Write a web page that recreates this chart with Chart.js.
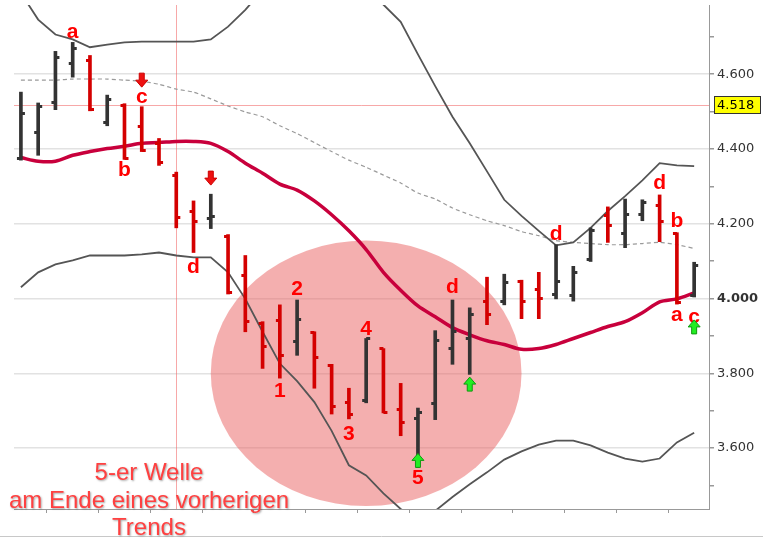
<!DOCTYPE html>
<html>
<head>
<meta charset="utf-8">
<script src="https://cdn.jsdelivr.net/npm/chart.js@4.4.1/dist/chart.umd.min.js"></script>
<style>
  html, body { margin: 0; padding: 0; background: #fff; }
  canvas { display: block; }
</style>
</head>
<body>
<canvas id="chart" width="763" height="555"></canvas>
<script>
// OHLC per bar (index points)
const opens  = [4375,4444,4523,4629,4637,4470,4515,4460,4415,4330,4232,4213,4166,4062,3932,3940,3885,3909,3821,3723,3726,3866,3702,3678,3718,3866,3893,3991,3991,4046,4025,4012,4009,4105,4221,4173,4226,4250,4173,4007];
const highs  = [4552,4523,4661,4685,4650,4544,4521,4513,4428,4338,4261,4279,4171,4115,3938,3983,3996,3911,3824,3760,3893,3866,3773,3707,3914,3996,3975,4057,4065,4049,4070,4144,4086,4189,4245,4266,4264,4277,4176,4097];
const lows   = [4370,4383,4505,4592,4502,4462,4372,4393,4356,4189,4123,4187,4012,3911,3813,3787,3848,3760,3691,3678,3721,3694,3633,3548,3676,3824,3797,3930,3983,3946,3946,3999,3993,4099,4150,4136,4208,4152,3985,4004];
const closes = [4494,4513,4645,4669,4505,4531,4375,4396,4364,4216,4205,4219,4015,3938,3871,3848,3943,3842,3710,3691,3893,3694,3668,3694,3887,3911,3956,3956,4044,3991,3999,4046,4070,4181,4195,4224,4258,4205,3988,4089];

// Bollinger bands, moving average, slow average (dashed)
const upperBand = [4817,4746,4706,4693,4672,4679,4685,4687,4687,4687,4687,4693,4727,4772,4825,4891,4944,4976,4984,4966,4905,4786,4740,4653,4568,4486,4415,4340,4264,4221,4181,4142,4150,4189,4234,4274,4316,4362,4356,4354];
const lowerBand = [4030,4070,4091,4102,4115,4115,4115,4118,4123,4115,4110,4110,4070,3999,3911,3826,3779,3723,3646,3554,3527,3479,3437,3408,3432,3469,3503,3535,3569,3591,3609,3620,3620,3607,3588,3572,3564,3572,3615,3641];
const movAvg    = [4377,4367,4367,4383,4393,4401,4407,4415,4417,4420,4420,4415,4393,4362,4335,4306,4290,4261,4224,4181,4131,4070,4022,3980,3951,3922,3903,3887,3877,3864,3866,3877,3893,3909,3925,3938,3962,3991,3999,4015];
const slowAvg   = [4584,4584,4584,4587,4587,4587,4584,4581,4573,4560,4552,4534,4515,4499,4486,4462,4441,4417,4393,4370,4351,4330,4309,4282,4266,4242,4224,4208,4195,4179,4168,4155,4150,4147,4144,4144,4147,4150,4144,4134];

// wave labels
const noteIdx  = [3, 6, 7, 10, 15, 16, 19, 20, 23, 25, 31, 37, 38, 38, 39];
const noteVal  = [4711, 4343, 4539, 4084, 3752, 4025, 3636, 3919, 3519, 4030, 4171, 4309, 4208, 3954, 3951];
const noteText = ['a', 'b', 'c', 'd', '1', '2', '3', '4', '5', 'd', 'd', 'd', 'b', 'a', 'c'];

// signal arrows
const downIdx = [7, 11];
const downVal = [4584, 4322];
const upIdx = [23, 26, 39];
const upVal = [3567, 3771, 3924];

const waveCenter = [20, 3800];
const waveRadius = [9, 355];
const cursorIdx = 9;
const lastPrice = 4518;
const yMin = 3437, yMax = 4785;

const RED = '#d40000';
const BLACK = '#333333';

function fmt(v) {
    const k = Math.floor(v / 1000);
    return k + '.' + String(Math.round(v - k * 1000)).padStart(3, '0');
}

function tickImage(color, side) {
    const c = document.createElement('canvas');
    c.width = 10; c.height = 3;
    const g = c.getContext('2d');
    g.fillStyle = color;
    g.fillRect(side === 'left' ? 1 : 5, 0, 4, 3);
    return c;
}
const ticksImg = {
    red:   { left: tickImage(RED, 'left'),   right: tickImage(RED, 'right') },
    black: { left: tickImage(BLACK, 'left'), right: tickImage(BLACK, 'right') }
};

const isUp = closes.map((c, i) => c >= opens[i]);
const barColors = isUp.map(u => u ? BLACK : RED);
const xy = arr => arr.map((v, i) => ({ x: i, y: v }));

function arrow(ctx, px, py, dir, fill, stroke) {
    // dir = 1 points down, -1 points up
    const pts = [[0, 7], [6, 0], [2.5, 0], [2.5, -7], [-2.5, -7], [-2.5, 0], [-6, 0]];
    ctx.beginPath();
    pts.forEach(([dx, dy], k) => {
        const X = px + dx, Y = py + dy * dir;
        if (k === 0) ctx.moveTo(X, Y); else ctx.lineTo(X, Y);
    });
    ctx.closePath();
    ctx.fillStyle = fill;
    ctx.fill();
    if (stroke) { ctx.strokeStyle = stroke; ctx.lineWidth = 1; ctx.stroke(); }
}

const overlay = {
    id: 'overlay',
    beforeDatasetsDraw(chart) {
        const { ctx, chartArea: a, scales: { x, y } } = chart;
        ctx.save();
        ctx.beginPath();
        ctx.rect(a.left, a.top, a.right - a.left, a.bottom - a.top);
        ctx.clip();

        // wave ellipse
        const cx = x.getPixelForValue(waveCenter[0]);
        const cy = y.getPixelForValue(waveCenter[1]);
        const rx = x.getPixelForValue(waveCenter[0] + waveRadius[0]) - cx;
        const ry = cy - y.getPixelForValue(waveCenter[1] + waveRadius[1]);
        ctx.fillStyle = 'rgba(234, 96, 96, 0.5)';
        ctx.beginPath();
        ctx.ellipse(cx, cy, rx, ry, 0, 0, Math.PI * 2);
        ctx.fill();

        // cursor lines
        const px = Math.round(x.getPixelForValue(cursorIdx)) + 0.5;
        const py = Math.round(y.getPixelForValue(lastPrice)) + 0.5;
        ctx.strokeStyle = 'rgba(242, 110, 110, 0.6)';
        ctx.lineWidth = 1;
        ctx.beginPath();
        ctx.moveTo(px, a.top); ctx.lineTo(px, a.bottom);
        ctx.moveTo(a.left, py); ctx.lineTo(a.right, py);
        ctx.stroke();
        ctx.restore();
    },
    afterDatasetsDraw(chart) {
        const { ctx, scales: { x, y } } = chart;
        ctx.save();
        ctx.font = 'bold 21px "Liberation Sans", Arial, sans-serif';
        ctx.textAlign = 'center';
        ctx.textBaseline = 'middle';
        ctx.fillStyle = '#ff0000';
        noteText.forEach((t, k) => {
            ctx.fillText(t, x.getPixelForValue(noteIdx[k]), y.getPixelForValue(noteVal[k]));
        });
        downIdx.forEach((i, k) => {
            arrow(ctx, x.getPixelForValue(i), y.getPixelForValue(downVal[k]), 1, '#ee1111', '#cc0000');
        });
        upIdx.forEach((i, k) => {
            arrow(ctx, x.getPixelForValue(i), y.getPixelForValue(upVal[k]), -1, '#22ee22', '#119911');
        });
        ctx.restore();
    },
    afterDraw(chart) {
        const { ctx, scales: { y } } = chart;
        ctx.save();
        // last price box
        const py = Math.round(y.getPixelForValue(lastPrice));
        ctx.fillStyle = '#ffff00';
        ctx.fillRect(714.5, py - 8.5, 46, 17);
        ctx.strokeStyle = '#333';
        ctx.lineWidth = 1;
        ctx.strokeRect(714.5, py - 8.5, 46, 17);
        ctx.fillStyle = '#000';
        ctx.font = '13px "DejaVu Sans", sans-serif';
        ctx.textBaseline = 'middle';
        ctx.fillText(fmt(lastPrice), 717, py + 0.5);

        // bottom frame line
        ctx.strokeStyle = '#c8c8c8';
        ctx.beginPath();
        ctx.moveTo(0, 536.5); ctx.lineTo(chart.width, 536.5);
        ctx.stroke();

        // note text
        ctx.font = '24px "Liberation Sans", Arial, sans-serif';
        ctx.textAlign = 'center';
        ctx.fillStyle = '#ff4040';
        ctx.shadowColor = 'rgba(0,0,0,0.35)';
        ctx.shadowOffsetX = 1;
        ctx.shadowOffsetY = 1;
        ctx.shadowBlur = 2;
        ctx.fillText('5-er Welle', 149, 473);
        ctx.fillText('am Ende eines vorherigen', 149, 501);
        ctx.fillText('Trends', 149, 528);
        ctx.restore();
    }
};

const ctx = document.getElementById('chart').getContext('2d');

new Chart(ctx, {
    type: 'bar',
    data: {
        datasets: [
            {
                type: 'bar',
                data: lows.map((l, i) => ({ x: i, y: [l, highs[i]] })),
                backgroundColor: barColors,
                barThickness: 3,
                borderWidth: 0,
                order: 1
            },
            {
                type: 'scatter',
                data: xy(opens),
                pointStyle: c => ticksImg[isUp[c.dataIndex] ? 'black' : 'red'].left,
                pointRadius: 3,
                order: 0
            },
            {
                type: 'scatter',
                data: xy(closes),
                pointStyle: c => ticksImg[isUp[c.dataIndex] ? 'black' : 'red'].right,
                pointRadius: 3,
                order: 0
            },
            {
                type: 'line',
                data: xy(movAvg),
                borderColor: '#c8003c',
                borderWidth: 3.5,
                pointRadius: 0,
                tension: 0.3,
                order: 2
            },
            {
                type: 'line',
                data: xy(upperBand),
                borderColor: '#555',
                borderWidth: 1.8,
                pointRadius: 0,
                tension: 0,
                order: 3
            },
            {
                type: 'line',
                data: xy(lowerBand),
                borderColor: '#555',
                borderWidth: 1.8,
                pointRadius: 0,
                tension: 0,
                order: 3
            },
            {
                type: 'line',
                data: xy(slowAvg),
                borderColor: '#9a9a9a',
                borderWidth: 1.2,
                borderDash: [4, 3],
                pointRadius: 0,
                tension: 0.2,
                order: 4
            }
        ]
    },
    options: {
        responsive: false,
        devicePixelRatio: 1,
        animation: false,
        layout: { padding: { left: 14, right: 0, top: 0, bottom: 0 } },
        plugins: {
            legend: { display: false },
            tooltip: { enabled: false }
        },
        scales: {
            x: {
                type: 'linear',
                min: -0.4,
                max: 39.86,
                offset: false,
                ticks: { display: false, stepSize: 3, includeBounds: false },
                grid: { drawOnChartArea: false, tickLength: 4, tickColor: '#999' },
                border: { color: '#999' },
                afterFit: s => { s.height = 46; s.paddingLeft = 0; s.paddingRight = 0; }
            },
            y: {
                position: 'right',
                min: yMin,
                max: yMax,
                ticks: {
                    stepSize: 100,
                    includeBounds: false,
                    autoSkip: false,
                    padding: 3,
                    color: '#333',
                    font: c => ({
                        family: '"DejaVu Sans", sans-serif',
                        size: 13,
                        weight: c.tick && c.tick.value === 4000 ? 'bold' : 'normal'
                    }),
                    callback: v => (v % 200 === 0 ? fmt(v) : '')
                },
                grid: {
                    color: c => (c.tick && c.tick.value % 200 === 0 ? '#e2e2e2' : 'rgba(0,0,0,0)'),
                    lineWidth: 1.5,
                    tickColor: '#999',
                    tickLength: 5
                },
                border: { color: '#999' },
                afterFit: s => { s.width = 54; s.paddingTop = 0; s.paddingBottom = 0; }
            }
        }
    },
    plugins: [overlay]
});
</script>
</body>
</html>
